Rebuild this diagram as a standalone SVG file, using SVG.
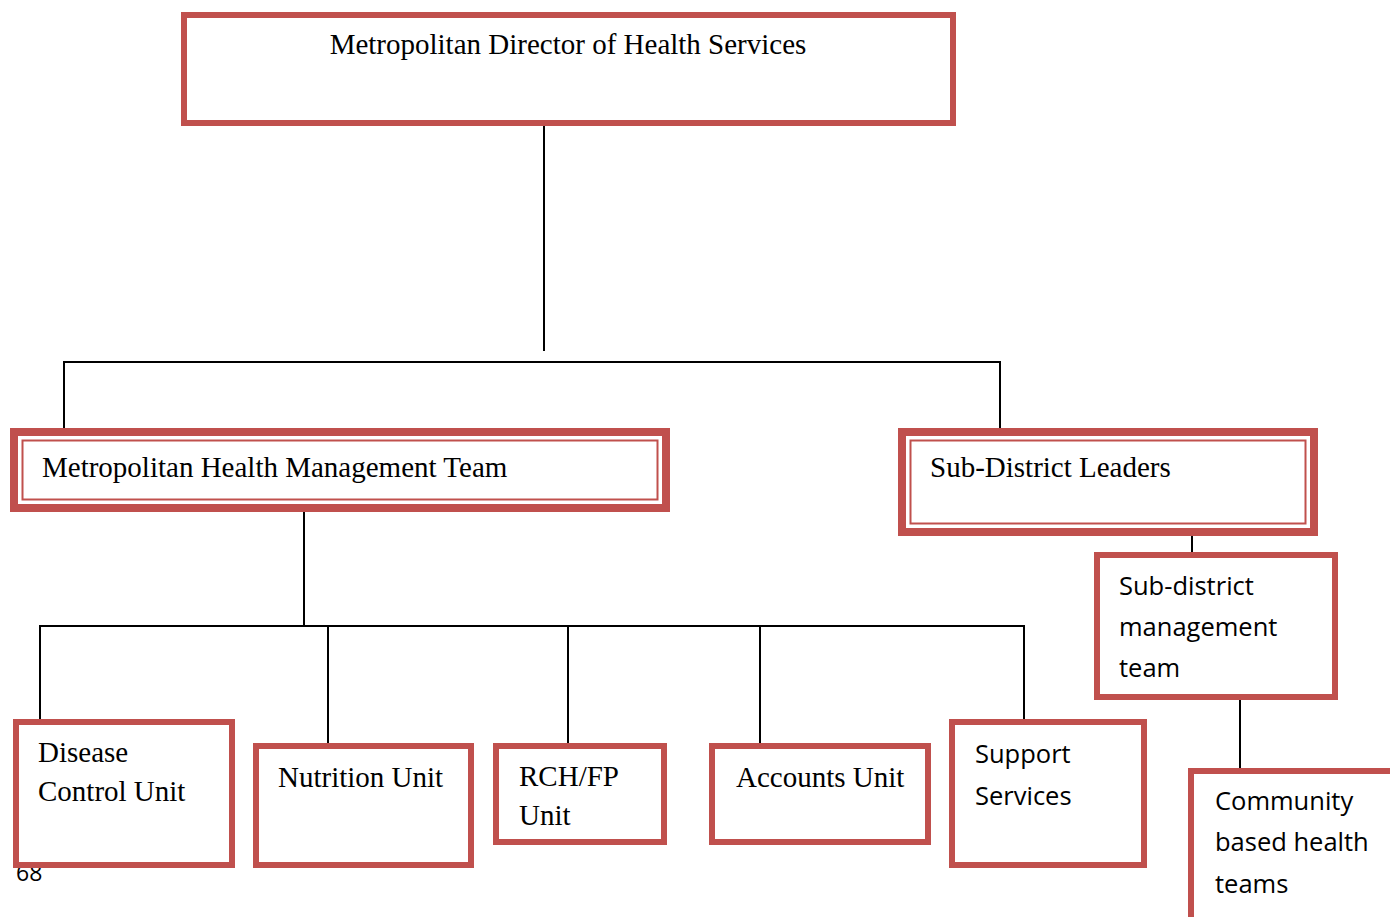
<svg xmlns="http://www.w3.org/2000/svg" width="1390" height="917" viewBox="0 0 1390 917">
<style>
.box{fill:#fff;stroke:#C0504D;stroke-width:6}
.thick{fill:#fff;stroke:#C0504D;stroke-width:8}
.thin{fill:none;stroke:#C0504D;stroke-width:2}
.ln{stroke:#000;stroke-width:2;fill:none}
.serif{font-family:"Liberation Serif","Times New Roman",serif;font-size:29px;fill:#000}
.sans{font-family:"Open Sans","Liberation Sans",sans-serif;font-size:25.5px;fill:#000}
</style>
<rect width="1390" height="917" fill="#fff"/>
<text x="16" y="881" class="sans" style="font-size:23px">68</text>
<g id="connectors">
<path class="ln" d="M544,126 V351"/>
<path class="ln" d="M64,428 V362 H1000 V428"/>
<path class="ln" d="M304,512 V626"/>
<path class="ln" d="M40,720 V626 H1024 V720"/>
<path class="ln" d="M328,626 V745 M568,626 V745 M760,626 V745"/>
<path class="ln" d="M1192,536 V552"/>
<path class="ln" d="M1240,700 V768"/>
</g>
<g id="director">
<rect class="box" x="184" y="15" width="769" height="108"/>
<text class="serif" x="568" y="54" text-anchor="middle">Metropolitan Director of Health Services</text>
</g>
<g id="mhmt">
<rect class="thick" x="14" y="432" width="652" height="76"/>
<rect class="thin" x="22.5" y="440.5" width="635" height="59"/>
<text class="serif" x="42" y="477">Metropolitan Health Management Team</text>
</g>
<g id="sdl">
<rect class="thick" x="902" y="432" width="412" height="100"/>
<rect class="thin" x="910.5" y="440.5" width="395" height="83"/>
<text class="serif" x="930" y="477">Sub-District Leaders</text>
</g>
<g id="sdmt">
<rect class="box" x="1097" y="555" width="238" height="142"/>
<text class="sans" x="1119" y="595">Sub-district</text>
<text class="sans" x="1119" y="636">management</text>
<text class="sans" x="1119" y="677">team</text>
</g>
<g id="community">
<rect class="box" x="1191" y="771" width="220" height="170"/>
<text class="sans" x="1215" y="810">Community</text>
<text class="sans" x="1215" y="851">based health</text>
<text class="sans" x="1215" y="893">teams</text>
</g>
<g id="disease">
<rect class="box" x="16" y="722" width="216" height="143"/>
<text class="serif" x="38" y="762">Disease</text>
<text class="serif" x="38" y="801">Control Unit</text>
</g>
<g id="nutrition">
<rect class="box" x="256" y="746" width="215" height="119"/>
<text class="serif" x="278" y="787">Nutrition Unit</text>
</g>
<g id="rch">
<rect class="box" x="496" y="746" width="168" height="96"/>
<text class="serif" x="519" y="786">RCH/FP</text>
<text class="serif" x="519" y="825">Unit</text>
</g>
<g id="accounts">
<rect class="box" x="712" y="746" width="216" height="96"/>
<text class="serif" x="736" y="787">Accounts Unit</text>
</g>
<g id="support">
<rect class="box" x="952" y="722" width="192" height="143"/>
<text class="sans" x="975" y="763">Support</text>
<text class="sans" x="975" y="805">Services</text>
</g>
</svg>
